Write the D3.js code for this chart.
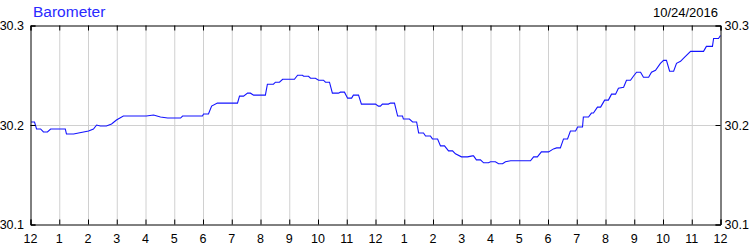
<!DOCTYPE html>
<html>
<head>
<meta charset="utf-8">
<script src="https://cdn.jsdelivr.net/npm/d3@7"></script>
<style>
  html, body { margin: 0; padding: 0; background: #fff; overflow: hidden; }
  svg { display: block; }
  text { font-family: Arial, "Liberation Sans", sans-serif; }
</style>
</head>
<body>
<div id="chart"></div>
<script>
const width = 750,
      height = 250,
      margin = { top: 25, right: 30, bottom: 26, left: 30 };

const innerWidth = width - (margin.right + margin.left),
      innerHeight = height - (margin.top + margin.bottom);

// hours since midnight 10/24/2016
const hours = [0.02, 0.14, 0.21, 0.35, 0.45, 0.59, 0.70, 1.21, 1.25, 1.50, 1.67, 2.02, 2.19, 2.30, 2.43, 2.64, 2.82, 2.99, 3.23, 3.65,
  4.03, 4.28, 4.52, 4.77, 5.22, 5.29, 5.98, 6.02, 6.19, 6.30, 6.50, 7.20, 7.27, 7.41, 7.55, 7.65, 7.76, 8.17, 8.24, 8.45,
  8.52, 8.66, 8.77, 9.18, 9.29, 9.46, 9.50, 9.67, 9.74, 9.91, 10.02, 10.19, 10.26, 10.40, 10.50, 10.71, 10.78, 10.92, 11.03, 11.17,
  11.23, 11.41, 11.51, 12.00, 12.10, 12.17, 12.24, 12.45, 12.52, 12.66, 12.77, 12.94, 12.97, 13.18, 13.29, 13.43, 13.50, 13.67, 13.74, 13.91,
  13.98, 14.16, 14.26, 14.40, 14.54, 14.68, 14.78, 14.99, 15.20, 15.37, 15.41, 15.51, 15.65, 15.76, 15.93, 16.00, 16.17, 16.28, 16.42, 16.52,
  16.70, 17.39, 17.50, 17.63, 17.77, 18.02, 18.19, 18.30, 18.43, 18.54, 18.68, 18.78, 18.96, 19.03, 19.20, 19.23, 19.41, 19.51, 19.58, 19.72,
  19.83, 19.97, 20.10, 20.21, 20.35, 20.45, 20.63, 20.73, 20.87, 20.97, 21.08, 21.22, 21.32, 21.50, 21.60, 21.74, 21.91, 22.02, 22.12, 22.23,
  22.37, 22.47, 22.61, 22.71, 22.96, 23.41, 23.51, 23.72, 23.76, 23.93, 24.00];

// barometric pressure (inHg)
const pressure = [30.203, 30.203, 30.196, 30.196, 30.193, 30.193, 30.196, 30.196, 30.191, 30.191, 30.192, 30.194, 30.196, 30.200, 30.199, 30.199, 30.201, 30.205, 30.209, 30.209,
  30.209, 30.210, 30.208, 30.207, 30.207, 30.209, 30.209, 30.211, 30.211, 30.219, 30.222, 30.222, 30.229, 30.229, 30.232, 30.232, 30.230, 30.230, 30.241, 30.241,
  30.243, 30.243, 30.246, 30.246, 30.250, 30.250, 30.249, 30.249, 30.247, 30.247, 30.245, 30.245, 30.243, 30.243, 30.232, 30.232, 30.233, 30.233, 30.227, 30.227,
  30.230, 30.230, 30.221, 30.221, 30.219, 30.219, 30.221, 30.221, 30.222, 30.222, 30.209, 30.209, 30.206, 30.206, 30.203, 30.203, 30.192, 30.192, 30.189, 30.189,
  30.186, 30.186, 30.179, 30.179, 30.174, 30.174, 30.171, 30.168, 30.168, 30.169, 30.169, 30.165, 30.165, 30.162, 30.162, 30.163, 30.163, 30.161, 30.161, 30.163,
  30.164, 30.164, 30.168, 30.168, 30.173, 30.173, 30.176, 30.177, 30.177, 30.186, 30.186, 30.194, 30.194, 30.198, 30.198, 30.208, 30.208, 30.212, 30.212, 30.218,
  30.218, 30.225, 30.225, 30.231, 30.231, 30.237, 30.238, 30.245, 30.245, 30.249, 30.253, 30.253, 30.248, 30.248, 30.253, 30.255, 30.262, 30.265, 30.265, 30.254,
  30.254, 30.262, 30.264, 30.267, 30.274, 30.274, 30.279, 30.279, 30.287, 30.287, 30.290];

const hourTicks = d3.range(0, 25),
      hourLabels = ['12','1','2','3','4','5','6','7','8','9','10','11','12','1','2','3','4','5','6','7','8','9','10','11','12'],
      pressureTicks = [30.1, 30.2, 30.3],
      title = 'Barometer',
      dateLabel = '10/24/2016';

const data = hours.map((h, i) => ({ h: h, p: pressure[i] }));

const svg = d3.select('#chart').append('svg')
    .attr('width', width)
    .attr('height', height);

svg.append('rect')
    .attr('width', width)
    .attr('height', height)
    .attr('fill', '#fff');

const plot = svg.append('g')
    .attr('transform', `translate(${margin.left + 0.5}, ${margin.top + 0.5})`);

const xScale = d3.scaleLinear()
    .domain([0, 24])
    .range([0, innerWidth]),
  yScale = d3.scaleLinear()
    .domain([30.1, 30.3])
    .range([innerHeight, 0]);

const noText = g => g.selectAll('text').remove();

// grid
plot.append('g')
    .attr('transform', `translate(0, ${innerHeight})`)
    .call(d3.axisBottom(xScale).tickValues(hourTicks.slice(1, -1)).tickSize(-innerHeight))
    .call(noText)
    .call(g => g.select('.domain').remove())
    .call(g => g.selectAll('line').attr('stroke', '#d0d0d0'));

plot.append('g')
    .call(d3.axisLeft(yScale).tickValues([30.2]).tickSize(-innerWidth))
    .call(noText)
    .call(g => g.select('.domain').remove())
    .call(g => g.selectAll('line').attr('stroke', '#d0d0d0'));

// pressure line
const line = d3.line()
    .x(d => xScale(d.h))
    .y(d => yScale(d.p));

plot.append('path')
    .datum(data)
    .attr('fill', 'none')
    .attr('stroke', '#1414ff')
    .attr('stroke-width', 1.1)
    .attr('d', line);

// frame + inner ticks
const frame = g => {
  g.call(noText);
  g.select('.domain').attr('stroke', '#000');
  g.selectAll('.tick line').attr('stroke', '#000');
};

plot.append('g')
    .attr('transform', `translate(0, ${innerHeight})`)
    .call(d3.axisBottom(xScale).tickValues(hourTicks).tickSize(-5))
    .call(frame);

plot.append('g')
    .call(d3.axisTop(xScale).tickValues(hourTicks).tickSize(-5))
    .call(frame);

plot.append('g')
    .call(d3.axisLeft(yScale).tickValues(pressureTicks).tickSize(-5))
    .call(frame);

plot.append('g')
    .attr('transform', `translate(${innerWidth}, 0)`)
    .call(d3.axisRight(yScale).tickValues(pressureTicks).tickSize(-5))
    .call(frame);

// tick labels
const labels = svg.append('g')
    .attr('font-size', 12.5)
    .attr('fill', '#000');

labels.selectAll('.xlab')
    .data(hourTicks)
  .enter().append('text')
    .attr('class', 'xlab')
    .attr('x', d => margin.left + 0.5 + xScale(d))
    .attr('y', 243)
    .attr('text-anchor', 'middle')
    .text((d, i) => hourLabels[i]);

labels.selectAll('.ylabl')
    .data(pressureTicks)
  .enter().append('text')
    .attr('class', 'ylabl')
    .attr('x', margin.left - 6)
    .attr('y', d => margin.top + 0.5 + yScale(d) + 4.5)
    .attr('text-anchor', 'end')
    .text(d3.format('.1f'));

labels.selectAll('.ylabr')
    .data(pressureTicks)
  .enter().append('text')
    .attr('class', 'ylabr')
    .attr('x', width - margin.right + 4.5)
    .attr('y', d => margin.top + 0.5 + yScale(d) + 4.5)
    .text(d3.format('.1f'));

// title and date
svg.append('text')
    .attr('x', 33)
    .attr('y', 17)
    .attr('fill', '#2a2aff')
    .attr('font-size', 15.5)
    .text(title);

svg.append('text')
    .attr('x', 718)
    .attr('y', 17)
    .attr('text-anchor', 'end')
    .attr('fill', '#000')
    .attr('font-size', 13)
    .text(dateLabel);
</script>
</body>
</html>
